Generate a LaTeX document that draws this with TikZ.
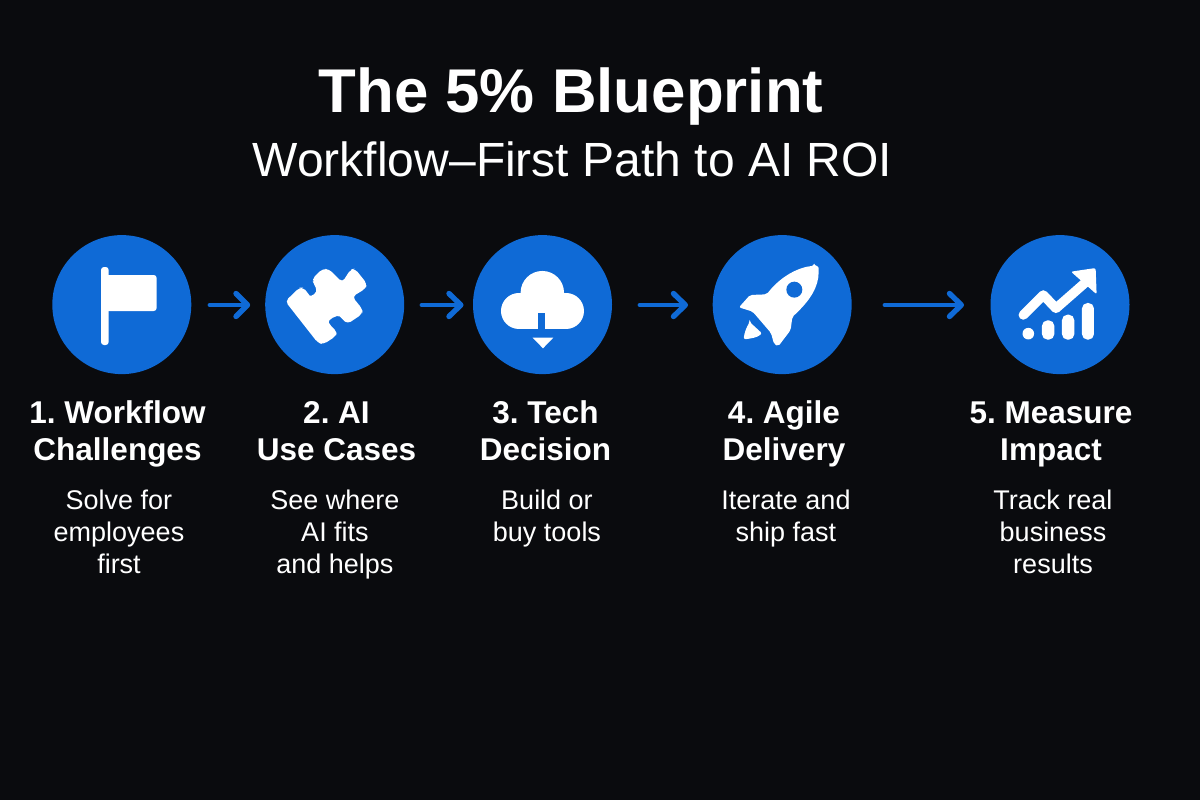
\documentclass[tikz,border=0pt]{standalone}
\usepackage{fontspec}
\setmainfont{Liberation Sans}
\definecolor{bgc}{HTML}{0A0B0E}
\definecolor{bluec}{HTML}{0F6AD6}
\newcommand{\firstline}{\rule{0pt}{1em}}
\tikzset{
  x=1pt,y=-1pt,
  disc/.style={circle,fill=bluec,draw=none,minimum size=139pt,inner sep=0pt},
  flow/.style={draw=bluec,line width=4.8pt,line cap=round,line join=round},
  flowhead/.style={draw=bluec,line width=5.4pt,line cap=round,line join=round},
  head/.style={text=white,align=center,anchor=north,font=\fontsize{31.5}{37.5}\selectfont\bfseries\frenchspacing,inner sep=0pt},
  sub/.style={text=white,align=center,anchor=north,font=\fontsize{27}{32}\selectfont,inner sep=0pt},
  ic/.style={fill=white,draw=none},
  icl/.style={draw=white,line cap=round,line join=round},
  zoomA/.style={shift={(40,225)},x=0.3333pt,y=-0.3333pt},
  zoomB/.style={shift={(410,225)},x=0.3333pt,y=-0.3333pt},
  zoomC/.style={shift={(780,225)},x=0.3333pt,y=-0.3333pt},
  zoomD/.style={shift={(700,230)},x=0.3333pt,y=-0.3333pt}
}
\begin{document}
\begin{tikzpicture}
\useasboundingbox (0,0) rectangle (1200,800);
\fill[bgc] (0,0) rectangle (1200,800);
\node[text=white,inner sep=0pt,anchor=base,font=\fontsize{61.8}{62}\selectfont\bfseries] (title) at (571,113) {The 5\% Blueprint};
\node[text=white,inner sep=0pt,anchor=base,font=\fontsize{48}{48}\selectfont] (subtitle) at (572.5,176) {Workflow–First Path to AI ROI};
\node[disc] (c1) at (121.8,304.6) {};
\node[disc] (c2) at (334.7,304.6) {};
\node[disc] (c3) at (542.5,304.6) {};
\node[disc] (c4) at (782.2,304.6) {};
\node[disc] (c5) at (1060,304.6) {};
% arrows
\coordinate (a1s) at (210,305); \coordinate (a1e) at (247.5,305);
\coordinate (a2s) at (422,305); \coordinate (a2e) at (460.8,305);
\coordinate (a3s) at (640,305); \coordinate (a3e) at (685.3,305);
\coordinate (a4s) at (885,305); \coordinate (a4e) at (961.3,305);
\draw[flow] (a1s) -- (a1e);
\draw[flowhead] (236,293.5) -- (a1e) -- (236,316.5);
\draw[flow] (a2s) -- (a2e);
\draw[flowhead] (449,293.5) -- (a2e) -- (449,316.5);
\draw[flow] (a3s) -- (a3e);
\draw[flowhead] (673.5,293.5) -- (a3e) -- (673.5,316.5);
\draw[flow] (a4s) -- (a4e);
\draw[flowhead] (949.5,293.5) -- (a4e) -- (949.5,316.5);
% flag
\fill[ic,rounded corners=3pt] (101,267) rectangle (108.7,345);
\fill[ic,rounded corners=3pt] (104,275) rectangle (156.7,311);
% puzzle
\begin{scope}[zoomA]
\fill[ic,rounded corners=4pt] (736,229) -- (778,188) -- (790,188) -- (802,202)
  .. controls (812,216) and (836,204) .. (822,178) -- (816,162) -- (848,131) -- (868,133) -- (907,172) -- (932,133) -- (945,131) -- (981,176) -- (977,191) -- (937,215) -- (968,253) -- (967,267) -- (922,297) -- (908,282)
  .. controls (892,268) and (862,285) .. (872,303) -- (892,320) -- (887,334) -- (850,358) -- (834,354) -- cycle;
\end{scope}
% cloud
\begin{scope}[zoomB]
\fill[ic] (397,203) circle (21.7pt);
\fill[ic] (327,258) circle (18pt);
\fill[ic] (468,258) circle (18pt);
\fill[ic] (327,204) rectangle (468,312);
\fill[bluec] (383,263) rectangle (405,313);
\fill[ic] (368,338) -- (430,338) -- (399,370) -- cycle;
\end{scope}
% rocket
\begin{scope}[zoomD]
\fill[ic,rounded corners=2pt] (343,107) .. controls (295,112) and (243,138) .. (200,193) -- (150,195) -- (117,232) -- (158,245) -- (213,309) -- (222,342) -- (235,349) -- (272,300) -- (277,261) .. controls (332,210) and (356,170) .. (356,120) .. controls (356,112) and (351,107) .. (343,107) -- cycle;
\fill[ic,rounded corners=2pt] (149,276) -- (186,310) .. controls (172,323) and (150,326) .. (131,328) .. controls (133,310) and (138,295) .. (149,276) -- cycle;
\fill[bluec] (283,179) circle (8pt);
\end{scope}
% chart
\begin{scope}[zoomC]
\draw[icl,line width=9.5pt] (730,270) -- (790,210) -- (828,250) -- (925,165);
\fill[ic,rounded corners=2pt] (873,140) -- (947,129) -- (950,208) -- cycle;
\fill[ic] (745,326) circle (5.8pt);
\fill[ic,rounded corners=5.5pt] (786,286) rectangle (823,344);
\fill[ic,rounded corners=5.5pt] (846,269) rectangle (883,344);
\fill[ic,rounded corners=5.5pt] (906,234) rectangle (942,344);
\end{scope}
% labels
\node[head] (h1) at (117.5,391.5) {\firstline 1. Workflow\\Challenges};
\node[head] (h2) at (336.5,391.5) {\firstline 2. AI\\Use Cases};
\node[head] (h3) at (545.5,391.5) {\firstline 3. Tech\\Decision};
\node[head] (h4) at (784,391.5) {\firstline 4. Agile\\Delivery};
\node[head] (h5) at (1051,391.5) {\firstline 5. Measure\\Impact};
\node[sub] (s1) at (119,482) {\firstline Solve for\\employees\\first};
\node[sub] (s2) at (335,482) {\firstline See where\\AI fits\\and helps};
\node[sub] (s3) at (547,482) {\firstline Build or\\buy tools};
\node[sub] (s4) at (786,482) {\firstline Iterate and\\ship fast};
\node[sub] (s5) at (1053,482) {\firstline Track real\\business\\results};
\end{tikzpicture}
\end{document}
